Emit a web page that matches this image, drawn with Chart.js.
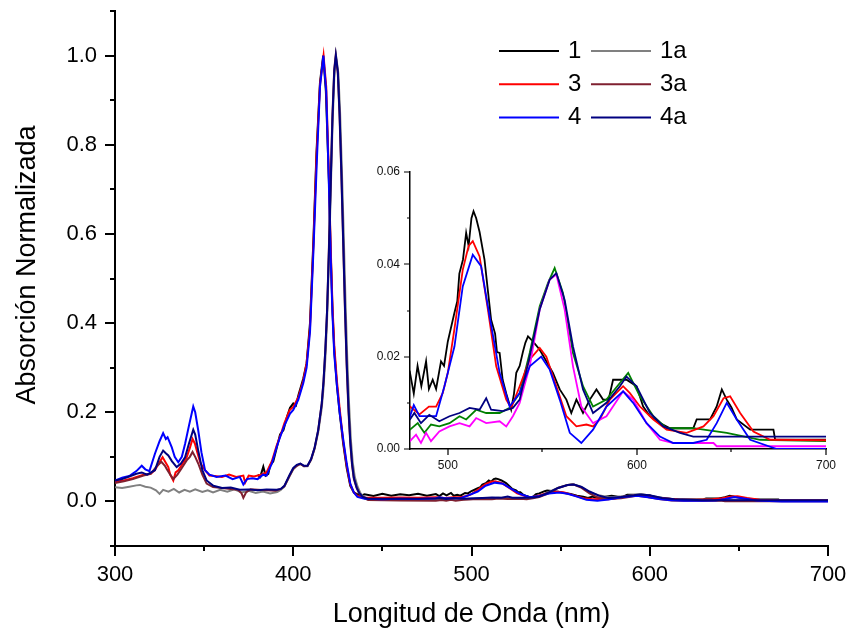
<!DOCTYPE html>
<html>
<head>
<meta charset="utf-8">
<script src="https://cdn.jsdelivr.net/npm/chart.js@4.4.0/dist/chart.umd.min.js"></script>
<style>
  html, body { margin: 0; padding: 0; background: #fff; }
  #wrap { position: relative; width: 850px; height: 632px; }
  #main { position: absolute; left: 0; top: 0; }
  #inset { position: absolute; left: 360px; top: 160px; }
</style>
</head>
<body>
<div id="wrap">
  <canvas id="main" width="850" height="632"></canvas>
  <canvas id="inset" width="480" height="330"></canvas>
</div>
<script>
// spectra as [wavelength nm, normalized absorbance]
const spec1 = [
  [380, 0.06], [381.5, 0.055], [383.2, 0.078], [384.5, 0.058], [386, 0.062], [387, 0.08], [388.8, 0.09],
  [390.7, 0.12], [392.6, 0.15], [394.5, 0.16], [396.5, 0.19], [398.2, 0.21], [400, 0.22], [401.5, 0.215],
  [403, 0.24], [405.6, 0.275], [407.5, 0.31], [409.4, 0.4], [411.3, 0.585], [413, 0.78], [415, 0.94],
  [416.8, 1.0], [418.3, 0.92], [420, 0.72], [421, 0.56], [422, 0.43], [423, 0.34], [424.5, 0.26],
  [426, 0.2], [428, 0.13], [430, 0.075], [432, 0.035], [434, 0.02], [436, 0.016], [438, 0.013],
  [440, 0.016], [445, 0.012], [450, 0.017], [455, 0.013], [460, 0.016], [465, 0.014], [470, 0.017],
  [475, 0.013], [480, 0.0165], [482, 0.012], [484, 0.018], [486, 0.0136], [488.5, 0.019], [490, 0.013],
  [492, 0.015], [493.8, 0.013], [496.4, 0.019], [498, 0.018], [500, 0.0233], [503.5, 0.0295], [505, 0.032],
  [506.1, 0.038], [508, 0.041], [509.7, 0.0468], [511, 0.044], [512.5, 0.05], [513.6, 0.0515], [515, 0.05],
  [516.8, 0.047], [519.4, 0.041], [521, 0.035], [522.9, 0.028], [525, 0.025], [526, 0.021], [527.4, 0.0208],
  [529, 0.015], [530.9, 0.012], [533.5, 0.0085], [535, 0.012], [536.2, 0.0165], [538, 0.018], [539.7, 0.021],
  [541, 0.023], [542.4, 0.0244], [545, 0.0233], [548.6, 0.0215], [552.1, 0.019], [555.6, 0.0165],
  [559.2, 0.0129], [562.7, 0.0107], [565.3, 0.0078], [568, 0.0107], [571.5, 0.0078], [575.1, 0.0107],
  [578.6, 0.0129], [582.1, 0.0107], [585, 0.0107], [587.4, 0.015], [594.5, 0.015], [599.8, 0.0136],
  [603.3, 0.0092], [606.9, 0.0071], [612.2, 0.0056], [617.5, 0.0045], [629.8, 0.0045], [631.6, 0.0064],
  [638.7, 0.0064], [642.2, 0.0092], [644.9, 0.0129], [647.5, 0.0107], [650, 0.009], [652.8, 0.0064],
  [659.9, 0.0042], [672.2, 0.0042], [673.1, 0.002], [700, 0.002]
];

const spec1a = [
  [300, 0.032], [304, 0.03], [308, 0.033], [312, 0.036], [314, 0.037], [317, 0.033], [320, 0.031],
  [323, 0.025], [325, 0.017], [327, 0.026], [330, 0.022], [333, 0.028], [336, 0.02], [339, 0.026],
  [342, 0.022], [345, 0.027], [349, 0.021], [352, 0.025], [355, 0.02], [359, 0.026], [363, 0.022],
  [367, 0.027], [371, 0.02], [375, 0.024], [379, 0.019], [383, 0.022], [387, 0.018], [391, 0.021],
  [393, 0.026], [395, 0.033], [398, 0.057], [400, 0.072], [402, 0.08], [404, 0.084], [406, 0.079],
  [408, 0.079], [410, 0.093], [412, 0.118], [414, 0.155], [416, 0.21], [417, 0.255], [418, 0.32],
  [419, 0.41], [420, 0.54], [421, 0.69], [422, 0.84], [423, 0.95], [424, 1.0], [425.3, 0.96],
  [426.3, 0.87], [427.3, 0.74], [428.3, 0.6], [429.3, 0.45], [430.3, 0.32], [431.3, 0.22], [432.3, 0.14],
  [433.3, 0.09], [434.5, 0.055], [436, 0.034], [437.5, 0.02], [439, 0.012],
  [442, 0.005], [460, 0.0035], [480, 0.0042], [484.1, 0.0056], [487.6, 0.0035], [491.1, 0.0053],
  [495.5, 0.0049], [500.9, 0.0056], [506.2, 0.0071], [509.7, 0.0064], [515, 0.0085], [520.3, 0.0078],
  [527.4, 0.0078], [532.7, 0.0089], [538, 0.0121], [543.3, 0.0208], [548.6, 0.0309], [553, 0.036],
  [556.5, 0.0392], [560.9, 0.0338], [566.2, 0.0208], [571.5, 0.0136], [576.8, 0.0092], [583.9, 0.0107],
  [591, 0.0143], [595.4, 0.0165], [601.6, 0.0114], [608.7, 0.0071], [615.7, 0.0045], [629.8, 0.0045],
  [647.5, 0.0035], [665.2, 0.002], [700, 0.0017]
];

const spec3 = [
  [300, 0.044], [305, 0.047], [310, 0.052], [316, 0.06], [320, 0.062], [322.4, 0.07], [324.5, 0.085],
  [326.7, 0.099], [328, 0.09], [329.9, 0.077], [331, 0.06], [332.7, 0.047], [334, 0.065], [335.5, 0.07],
  [338, 0.085], [340.2, 0.099], [342, 0.12], [343.5, 0.14], [344.8, 0.13], [346.1, 0.111], [348, 0.085],
  [350.5, 0.07], [353, 0.058], [356, 0.057], [360, 0.055], [364, 0.06], [368, 0.055], [372, 0.058],
  [373, 0.042], [375, 0.058], [378, 0.056], [382, 0.06], [385, 0.065], [388, 0.09], [390.7, 0.125],
  [393, 0.15], [395, 0.175], [398, 0.205], [400, 0.212], [403, 0.235], [405.6, 0.27], [407.5, 0.31],
  [409.4, 0.39], [411.3, 0.575], [413, 0.77], [415, 0.935], [417, 1.0], [418.5, 0.93], [420, 0.73],
  [421, 0.57], [422, 0.44], [423, 0.35], [424.5, 0.27], [426, 0.21], [428, 0.135], [430, 0.08],
  [432, 0.038], [434, 0.02], [436, 0.012],
  [440, 0.009], [450, 0.008], [460, 0.009], [470, 0.0085], [480, 0.0092], [485, 0.0075], [490, 0.0092],
  [493.8, 0.0092], [497.3, 0.0121], [500, 0.0165], [503.5, 0.026], [507.9, 0.0388], [511, 0.044],
  [513.2, 0.045], [516.8, 0.0417], [521.2, 0.0302], [525.6, 0.0179], [530.9, 0.0107], [533.5, 0.0089],
  [538, 0.0136], [543.3, 0.0194], [548.6, 0.0219], [552.1, 0.02], [557.4, 0.0136], [562.7, 0.0071],
  [568, 0.0049], [573.3, 0.0053], [576.8, 0.0049], [580.4, 0.0064], [585.7, 0.0107], [592.7, 0.0136],
  [596.3, 0.0121], [601.6, 0.0092], [608.7, 0.0064], [615.7, 0.0042], [626.3, 0.0035], [635.2, 0.0049],
  [640.5, 0.0071], [645.8, 0.011], [649.3, 0.0114], [654.6, 0.0078], [661.6, 0.0038], [670.5, 0.002],
  [700, 0.0019]
];

const spec3a = [
  [300, 0.041], [305, 0.045], [310, 0.05], [316, 0.058], [320, 0.062], [323, 0.077], [326, 0.089],
  [328, 0.08], [329, 0.073], [331, 0.06], [332.7, 0.05], [335, 0.06], [337.5, 0.075], [340.2, 0.092],
  [342, 0.1], [343.5, 0.111], [345, 0.1], [346.7, 0.085], [349, 0.06], [351.4, 0.04], [355, 0.032],
  [360, 0.03], [365, 0.028], [369, 0.026], [371, 0.018], [372, 0.008], [373.5, 0.02], [376, 0.027],
  [380, 0.026], [385, 0.025], [390, 0.024], [393, 0.028], [395, 0.034], [398, 0.058], [400, 0.073],
  [402, 0.08], [404, 0.084], [406, 0.079], [408, 0.08], [410, 0.094], [412, 0.12], [414, 0.16],
  [416, 0.22], [417, 0.27], [418, 0.34], [419, 0.43], [420, 0.57], [421, 0.72], [422, 0.87], [423, 0.97],
  [423.8, 1.0], [425, 0.96], [426, 0.86], [427, 0.73], [428, 0.58], [429, 0.43], [430, 0.3], [431, 0.2],
  [432, 0.13], [433, 0.08], [434, 0.05], [435.6, 0.03], [437, 0.018], [438.5, 0.01],
  [442, 0.003], [460, 0.002], [480, 0.0017], [483.2, 0.0031], [485.8, 0.0013], [488.5, 0.0035],
  [491.1, 0.0017], [495.5, 0.0038], [500.9, 0.0049], [506.2, 0.0056], [511.5, 0.0049], [515, 0.0067],
  [520.3, 0.0056], [527.4, 0.006], [530.9, 0.0049], [534.4, 0.0071], [538, 0.01], [543.3, 0.0179],
  [548.6, 0.0302], [553.9, 0.0367], [557.4, 0.0378], [561.8, 0.0302], [566.2, 0.0179], [570.6, 0.0092],
  [576.8, 0.0056], [583.9, 0.0071], [592.7, 0.0125], [598, 0.0107], [605.1, 0.0056], [612.2, 0.002],
  [619.2, 0.0013], [640.5, 0.0013], [642.2, 0.0006], [700, 0.0006]
];

const spec4 = [
  [300, 0.047], [304, 0.053], [308, 0.057], [312, 0.068], [315, 0.08], [317, 0.072], [319.3, 0.068],
  [322.4, 0.107], [325, 0.135], [327, 0.153], [328.5, 0.14], [329.5, 0.144], [331.8, 0.122], [333.5, 0.1],
  [335.5, 0.088], [337.5, 0.1], [339.3, 0.129], [341.5, 0.17], [343.9, 0.213], [345, 0.2], [346.7, 0.159],
  [348.5, 0.11], [350.5, 0.07], [353, 0.06], [357, 0.055], [362, 0.058], [366, 0.05], [370, 0.055],
  [372, 0.038], [374, 0.05], [377, 0.052], [380, 0.05], [383, 0.06], [385, 0.058], [388, 0.085],
  [390.7, 0.122], [392.6, 0.144], [395, 0.17], [398.2, 0.197], [400, 0.205], [402.8, 0.228],
  [405.6, 0.265], [407.5, 0.3], [409.4, 0.38], [411.3, 0.56], [413.2, 0.76], [415, 0.93], [416.9, 1.0],
  [418.5, 0.92], [420, 0.71], [421, 0.55], [422, 0.42], [423, 0.33], [424.5, 0.26], [426, 0.2],
  [428, 0.14], [430, 0.085], [432, 0.04], [434, 0.02], [436, 0.01],
  [440, 0.006], [450, 0.005], [460, 0.006], [470, 0.0055], [480, 0.0071], [482, 0.0095], [485, 0.0071],
  [493.8, 0.0071], [498.2, 0.0136], [503.5, 0.0222], [507.9, 0.0352], [513.2, 0.0421], [517.6, 0.0396],
  [522.1, 0.0287], [527.4, 0.0165], [532.7, 0.0092], [538, 0.0121], [543.3, 0.0179], [549.4, 0.02],
  [553.9, 0.0172], [559.2, 0.0107], [564.5, 0.0035], [570.6, 0.0013], [576.8, 0.0042], [583.9, 0.0092],
  [592.7, 0.0125], [598, 0.01], [605.1, 0.0056], [612.2, 0.0027], [619.2, 0.0013], [629.8, 0.0013],
  [636.9, 0.002], [642.2, 0.0056], [647.5, 0.01], [652.8, 0.0064], [659.9, 0.002], [674, 0], [700, 0]
];

const spec4a = [
  [300, 0.047], [304, 0.05], [308, 0.056], [312, 0.062], [315, 0.065], [318, 0.06], [322.4, 0.07],
  [325, 0.1], [327, 0.114], [328.5, 0.108], [329.9, 0.103], [332, 0.09], [334.6, 0.077], [337, 0.085],
  [339.3, 0.099], [341.5, 0.13], [343.9, 0.161], [345, 0.15], [346.7, 0.114], [349, 0.07], [351.4, 0.047],
  [355.2, 0.035], [360, 0.03], [365, 0.031], [370, 0.026], [375, 0.027], [380, 0.025], [385, 0.027],
  [390.7, 0.026], [393, 0.028], [395, 0.035], [398, 0.06], [400, 0.075], [402, 0.082], [404, 0.085],
  [406, 0.08], [408, 0.08], [410, 0.095], [412, 0.121], [414, 0.16], [416, 0.22], [417, 0.27], [418, 0.34],
  [419, 0.43], [420, 0.56], [421, 0.71], [422, 0.86], [423, 0.965], [423.9, 1.0], [425, 0.965],
  [426, 0.87], [427, 0.74], [428, 0.59], [429, 0.44], [430, 0.31], [431, 0.21], [432, 0.135], [433, 0.085],
  [434, 0.053], [435.6, 0.031], [437, 0.019], [439, 0.01],
  [442, 0.006], [460, 0.006], [480, 0.0064], [482.3, 0.0078], [485.8, 0.0056], [490.2, 0.0074],
  [495.5, 0.006], [500.9, 0.0071], [506.2, 0.0078], [511.5, 0.0089], [516.8, 0.0085], [520.3, 0.011],
  [522.9, 0.0085], [529.1, 0.0082], [534.4, 0.0089], [538, 0.0107], [543.3, 0.02], [548.6, 0.0302],
  [553.9, 0.0367], [557.4, 0.0381], [561.8, 0.0323], [566.2, 0.0222], [571.5, 0.0129], [576.8, 0.0078],
  [583.9, 0.01], [591, 0.0136], [594.5, 0.0157], [599.8, 0.0136], [606.9, 0.0078], [614, 0.0049],
  [622.8, 0.0035], [629.8, 0.0027], [700, 0.0027]
];

const seriesLabels = ['1', '1a', '3', '3a', '4', '4a'];
const seriesData = [spec1, spec1a, spec3, spec3a, spec4, spec4a];
const mainColors = ['#000000', '#808080', '#ff0000', '#7f2030', '#0000ff', '#000080'];
const insetColors = ['#000000', '#008000', '#ff0000', '#ff00ff', '#0000ff', '#000080'];

const mainXTicks = [300, 400, 500, 600, 700];
const mainXMinor = [350, 450, 550, 650];
const mainYTicks = [0, 0.2, 0.4, 0.6, 0.8, 1.0];
const mainYMinor = [-0.1, 0.1, 0.3, 0.5, 0.7, 0.9, 1.1];
const insetXTicks = [500, 600, 700];
const insetXMinor = [550, 650];
const insetYTicks = [0, 0.02, 0.04, 0.06];
const insetYMinor = [0.01, 0.03, 0.05];

const FONT = "'Liberation Sans', Arial, Helvetica, sans-serif";
Chart.defaults.font.family = FONT;
Chart.defaults.color = '#000';

function toPoints(pairs) {
  return pairs.map((p) => ({ x: p[0], y: p[1] }));
}

function buildDatasets(colors, width) {
  return seriesData.map((pairs, i) => ({
    label: seriesLabels[i],
    data: toPoints(pairs),
    borderColor: colors[i],
    borderWidth: width,
    pointRadius: 0,
    tension: 0,
    fill: false,
    order: seriesData.length - i,
  }));
}

// Origin-style outward tick marks with minor ticks
function tickMarks(cfg) {
  return {
    id: 'tickMarks',
    afterDraw(chart) {
      const { ctx, chartArea } = chart;
      const sx = chart.scales.x;
      const sy = chart.scales.y;
      ctx.save();
      ctx.strokeStyle = '#000';
      ctx.lineWidth = cfg.width;
      ctx.beginPath();
      const xTick = (v, len) => {
        const p = Math.round(sx.getPixelForValue(v));
        ctx.moveTo(p, chartArea.bottom);
        ctx.lineTo(p, chartArea.bottom + len);
      };
      const yTick = (v, len) => {
        const p = Math.round(sy.getPixelForValue(v));
        ctx.moveTo(chartArea.left, p);
        ctx.lineTo(chartArea.left - len, p);
      };
      cfg.xMajor.forEach((v) => xTick(v, cfg.major));
      cfg.xMinor.forEach((v) => xTick(v, cfg.minor));
      cfg.yMajor.forEach((v) => yTick(v, cfg.major));
      cfg.yMinor.forEach((v) => yTick(v, cfg.minor));
      ctx.stroke();
      ctx.restore();
    },
  };
}

const axisTitles = {
  id: 'axisTitles',
  afterDraw(chart) {
    const { ctx, chartArea } = chart;
    ctx.save();
    ctx.fillStyle = '#000';
    ctx.font = '27px ' + FONT;
    ctx.textAlign = 'center';
    ctx.textBaseline = 'alphabetic';
    ctx.fillText('Longitud de Onda (nm)', (chartArea.left + chartArea.right) / 2, 622);
    ctx.translate(35, 265);
    ctx.rotate(-Math.PI / 2);
    ctx.fillText('Absorción Normalizada', 0, 0);
    ctx.restore();
  },
};

const gridLegend = {
  id: 'gridLegend',
  afterDraw(chart) {
    const { ctx } = chart;
    ctx.save();
    ctx.font = '24px ' + FONT;
    ctx.textAlign = 'left';
    ctx.textBaseline = 'middle';
    chart.data.datasets.forEach((ds, i) => {
      const col = i % 2;
      const row = Math.floor(i / 2);
      const x0 = 499 + col * 92;
      const y = 51 + row * 33.3;
      ctx.strokeStyle = ds.borderColor;
      ctx.lineWidth = 2;
      ctx.beginPath();
      ctx.moveTo(x0, y);
      ctx.lineTo(x0 + 60, y);
      ctx.stroke();
      ctx.fillStyle = '#000';
      ctx.fillText(ds.label, x0 + 69, y);
    });
    ctx.restore();
  },
};

new Chart(document.getElementById('main'), {
  type: 'line',
  data: { datasets: buildDatasets(mainColors, 2) },
  options: {
    responsive: false,
    animation: false,
    devicePixelRatio: 1,
    layout: { padding: { left: 0, top: 11, right: 22, bottom: 0 } },
    plugins: { legend: { display: false }, tooltip: { enabled: false } },
    scales: {
      x: {
        type: 'linear',
        min: 300,
        max: 700,
        grid: { display: false, drawTicks: false },
        border: { display: true, color: '#000', width: 2 },
        ticks: { font: { size: 22 }, color: '#000', padding: 16, maxRotation: 0, autoSkip: false },
        afterBuildTicks(scale) {
          scale.ticks = mainXTicks.map((v) => ({ value: v }));
        },
        afterFit(scale) {
          scale.height = 86;
          scale.paddingLeft = 0;
          scale.paddingRight = 0;
        },
      },
      y: {
        type: 'linear',
        min: -0.1,
        max: 1.1,
        grid: { display: false, drawTicks: false },
        border: { display: true, color: '#000', width: 2 },
        ticks: {
          font: { size: 22 },
          color: '#000',
          padding: 18,
          autoSkip: false,
          callback: (v) => v.toFixed(1),
        },
        afterBuildTicks(scale) {
          scale.ticks = mainYTicks.map((v) => ({ value: v }));
        },
        afterFit(scale) {
          scale.width = 115;
          scale.paddingTop = 0;
          scale.paddingBottom = 0;
        },
      },
    },
  },
  plugins: [
    tickMarks({ xMajor: mainXTicks, xMinor: mainXMinor, yMajor: mainYTicks, yMinor: mainYMinor, major: 10, minor: 5, width: 2 }),
    axisTitles,
    gridLegend,
  ],
});

new Chart(document.getElementById('inset'), {
  type: 'line',
  data: { datasets: buildDatasets(insetColors, 1.8) },
  options: {
    responsive: false,
    animation: false,
    devicePixelRatio: 1,
    layout: { padding: { left: 0, top: 12, right: 14, bottom: 0 } },
    plugins: { legend: { display: false }, tooltip: { enabled: false } },
    scales: {
      x: {
        type: 'linear',
        min: 480,
        max: 700,
        grid: { display: false, drawTicks: false },
        border: { display: true, color: '#000', width: 1.5 },
        ticks: { font: { size: 12 }, color: '#111', padding: 9, maxRotation: 0, autoSkip: false },
        afterBuildTicks(scale) {
          scale.ticks = insetXTicks.map((v) => ({ value: v }));
        },
        afterFit(scale) {
          scale.height = 41;
          scale.paddingLeft = 0;
          scale.paddingRight = 0;
        },
      },
      y: {
        type: 'linear',
        min: 0,
        max: 0.06,
        grid: { display: false, drawTicks: false },
        border: { display: true, color: '#000', width: 1.5 },
        ticks: {
          font: { size: 12 },
          color: '#111',
          padding: 10,
          autoSkip: false,
          callback: (v) => v.toFixed(2),
        },
        afterBuildTicks(scale) {
          scale.ticks = insetYTicks.map((v) => ({ value: v }));
        },
        afterFit(scale) {
          scale.width = 50;
          scale.paddingTop = 0;
          scale.paddingBottom = 0;
        },
      },
    },
  },
  plugins: [
    tickMarks({ xMajor: insetXTicks, xMinor: insetXMinor, yMajor: insetYTicks, yMinor: insetYMinor, major: 6, minor: 3, width: 1.2 }),
  ],
});
</script>
</body>
</html>
